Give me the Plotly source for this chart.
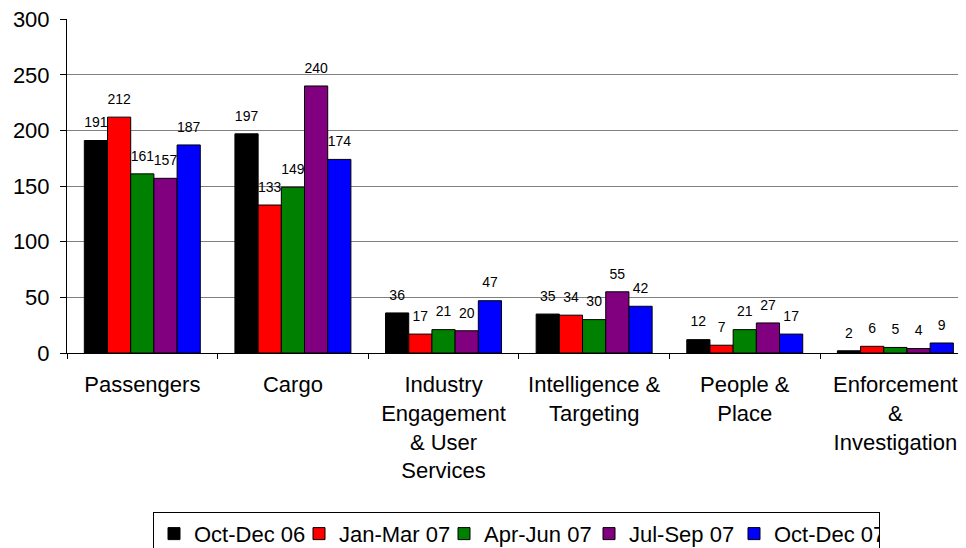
import plotly.graph_objects as go

# categories and series
categories = ["Passengers", "Cargo", "Industry<br>Engagement<br>& User<br>Services",
              "Intelligence &<br>Targeting", "People &<br>Place", "Enforcement<br>&<br>Investigation"]
series_names = ["Oct-Dec 06", "Jan-Mar 07", "Apr-Jun 07", "Jul-Sep 07", "Oct-Dec 07"]
oct_dec_06 = [191, 197, 36, 35, 12, 2]
jan_mar_07 = [212, 133, 17, 34, 7, 6]
apr_jun_07 = [161, 149, 21, 30, 21, 5]
jul_sep_07 = [157, 240, 20, 55, 27, 4]
oct_dec_07 = [187, 174, 47, 42, 17, 9]
y_ticks = [0, 50, 100, 150, 200, 250, 300]
colors = ["#000000", "#ff0000", "#008000", "#800080", "#0000ff"]

series = [oct_dec_06, jan_mar_07, apr_jun_07, jul_sep_07, oct_dec_07]

fig = go.Figure()
for i, (name, vals, col) in enumerate(zip(series_names, series, colors)):
    fig.add_trace(go.Bar(
        x=categories, y=vals, name=name, offsetgroup=str(i),
        marker=dict(color=col, line=dict(color="black", width=1)),
    ))
# value labels sit a little above each bar
for i, vals in enumerate(series):
    fig.add_trace(go.Scatter(
        x=categories, y=vals, mode="markers+text", offsetgroup=str(i),
        marker=dict(size=14, opacity=0), text=vals, textposition="top center",
        textfont=dict(size=14, color="black"), showlegend=False,
        cliponaxis=False, hoverinfo="skip",
    ))

# page body adds 8px around the figure, so the figure is 8px smaller
fig.update_layout(
    width=958, height=540,
    margin=dict(l=59, r=0, t=11, b=195),
    plot_bgcolor="white", paper_bgcolor="white",
    font=dict(family="Arial, Liberation Sans", size=22, color="black"),
    barmode="group", bargap=0.23, bargroupgap=0,
    scattermode="group", scattergap=0.23,
    showlegend=True,
    legend=dict(orientation="h", x=0.5, xanchor="center",
                yref="container", y=0.067, yanchor="top",
                bordercolor="black", borderwidth=1, font=dict(size=22),
                itemwidth=30, entrywidth=100, tracegroupgap=0),
)
fig.update_yaxes(range=[0, 300.2], tickmode="array", tickvals=y_ticks,
                 showline=True, linecolor="black", ticklabeloverflow="allow",
                 ticks="outside", ticklen=6, tickcolor="black", automargin=False,
                 ticklabelstandoff=6,
                 showgrid=True, gridcolor="#808080", gridwidth=1, zeroline=False,
                 tickfont=dict(size=22))
fig.update_xaxes(range=[-0.5, 5.469], showline=True, linecolor="black",
                 ticks="outside", tickson="boundaries", automargin=False,
                 ticklen=5, tickcolor="black", ticklabelstandoff=12,
                 ticklabeloverflow="allow", tickfont=dict(size=22))

fig.write_html("out.html")
